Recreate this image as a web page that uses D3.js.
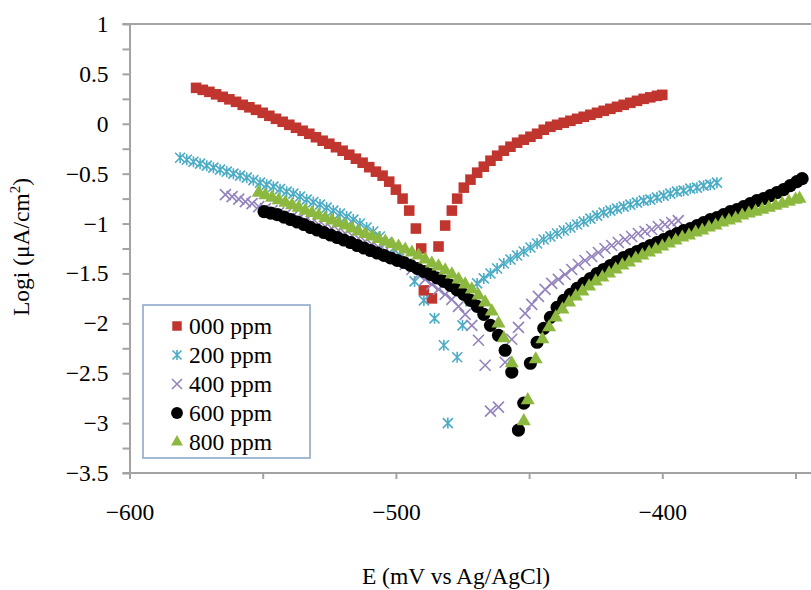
<!DOCTYPE html>
<html><head><meta charset="utf-8">
<script src="https://cdn.jsdelivr.net/npm/d3@7"></script>
<style>
body{margin:0;background:#fff}
svg{display:block}
text{font-family:"Liberation Serif","Times New Roman",serif;fill:#000}
</style>
</head><body>
<svg id="chart" width="811" height="590"></svg>
<script>
// ---- data: [E (mV vs Ag/AgCl), log i (µA/cm²)] ----
const seriesNames = ["000 ppm", "200 ppm", "400 ppm", "600 ppm", "800 ppm"];

const ppm000 = [[-575,0.36],[-572.5,0.34],[-570,0.32],[-567.5,0.295],[-565,0.27],[-562.5,0.245],[-560,0.22],[-557.5,0.19],[-555,0.165],[-552.5,0.14],[-550,0.11],[-547.5,0.08],[-545,0.05],[-542.5,0.02],[-540,-0.01],[-537.5,-0.04],[-535,-0.07],[-532.5,-0.10],[-530,-0.135],[-527.5,-0.17],[-525,-0.20],[-522.5,-0.235],[-520,-0.27],[-517.5,-0.31],[-515,-0.35],[-512.5,-0.39],[-510,-0.435],[-507.5,-0.48],[-505,-0.52],[-502.5,-0.58],[-500,-0.66],[-497.5,-0.75],[-495,-0.87],[-492.5,-1.05],[-490.5,-1.25],[-489.5,-1.67],[-486.5,-1.75],[-484,-1.23],[-481.5,-1.02],[-479,-0.87],[-477,-0.75],[-474.5,-0.64],[-472,-0.56],[-469.5,-0.49],[-467,-0.43],[-464.5,-0.37],[-462,-0.32],[-459.5,-0.27],[-457,-0.23],[-454.5,-0.19],[-452,-0.16],[-449.5,-0.13],[-447,-0.10],[-444.5,-0.06],[-442,-0.03],[-439.5,-0.01],[-437,0.01],[-434.5,0.03],[-432,0.05],[-429.5,0.07],[-427,0.09],[-424.5,0.11],[-422,0.13],[-419.5,0.15],[-417,0.17],[-414.5,0.19],[-412,0.21],[-409.5,0.23],[-407,0.25],[-404.5,0.265],[-402,0.28],[-400,0.29]];

const ppm200 = [[-581,-0.34],[-578.5,-0.36],[-576,-0.38],[-573.5,-0.40],[-571,-0.42],[-568.5,-0.44],[-566,-0.46],[-563.5,-0.48],[-561,-0.50],[-558.5,-0.52],[-556,-0.54],[-553.5,-0.565],[-551,-0.59],[-548.5,-0.61],[-546,-0.63],[-543.5,-0.655],[-541,-0.68],[-538.5,-0.70],[-536,-0.73],[-533.5,-0.76],[-531,-0.785],[-528.5,-0.81],[-526,-0.84],[-523.5,-0.87],[-521,-0.90],[-518.5,-0.93],[-516,-0.96],[-513.5,-1.00],[-511,-1.04],[-508.5,-1.08],[-506,-1.13],[-503.5,-1.19],[-501,-1.25],[-498.5,-1.32],[-496,-1.40],[-493,-1.58],[-489.5,-1.77],[-485.5,-1.95],[-482,-2.22],[-480.5,-3.0],[-477,-2.34],[-475,-2.02],[-472,-1.78],[-469.5,-1.60],[-467,-1.55],[-464.5,-1.50],[-462,-1.45],[-459.5,-1.40],[-457,-1.36],[-454.5,-1.32],[-452,-1.28],[-449.5,-1.24],[-447,-1.20],[-444.5,-1.16],[-442,-1.13],[-439.5,-1.10],[-437,-1.07],[-434.5,-1.04],[-432,-1.01],[-429.5,-0.98],[-427,-0.95],[-424.5,-0.92],[-422,-0.89],[-419.5,-0.87],[-417,-0.85],[-414.5,-0.83],[-412,-0.81],[-409.5,-0.79],[-407,-0.77],[-404.5,-0.76],[-402,-0.74],[-399.5,-0.72],[-397,-0.70],[-394.5,-0.68],[-392,-0.67],[-389.5,-0.65],[-387,-0.64],[-384.5,-0.62],[-382,-0.61],[-379.5,-0.59]];

const ppm400 = [[-564,-0.71],[-561.5,-0.73],[-559,-0.755],[-556.5,-0.78],[-554,-0.80],[-551.5,-0.83],[-549,-0.85],[-546.5,-0.87],[-544,-0.89],[-541.5,-0.91],[-539,-0.93],[-536.5,-0.95],[-534,-0.97],[-531.5,-0.99],[-529,-1.01],[-526.5,-1.03],[-524,-1.05],[-521.5,-1.07],[-519,-1.10],[-516.5,-1.12],[-514,-1.15],[-511.5,-1.18],[-509,-1.21],[-506.5,-1.24],[-504,-1.27],[-501.5,-1.31],[-499,-1.36],[-496.5,-1.41],[-494,-1.46],[-491.5,-1.51],[-489,-1.56],[-486.5,-1.61],[-484,-1.66],[-481.5,-1.71],[-479,-1.76],[-476.5,-1.83],[-474,-1.91],[-471.5,-2.02],[-469,-2.17],[-466.5,-2.42],[-464.5,-2.88],[-461.5,-2.84],[-459,-2.39],[-456.5,-2.16],[-454,-2.04],[-451.5,-1.90],[-449,-1.81],[-446.5,-1.73],[-444,-1.66],[-441.5,-1.60],[-439,-1.56],[-436.5,-1.51],[-434,-1.46],[-431.5,-1.41],[-429,-1.37],[-426.5,-1.33],[-424,-1.29],[-421.5,-1.25],[-419,-1.22],[-416.5,-1.19],[-414,-1.16],[-411.5,-1.13],[-409,-1.10],[-406.5,-1.08],[-404,-1.06],[-401.5,-1.03],[-399,-1.01],[-396.5,-0.99],[-394,-0.97]];

const ppm600 = [[-549.5,-0.88],[-547,-0.895],[-544.5,-0.91],[-542,-0.935],[-539.5,-0.96],[-537,-0.985],[-534.5,-1.01],[-532,-1.04],[-529.5,-1.065],[-527,-1.09],[-524.5,-1.115],[-522,-1.14],[-519.5,-1.165],[-517,-1.19],[-514.5,-1.22],[-512,-1.245],[-509.5,-1.27],[-507,-1.295],[-504.5,-1.32],[-502,-1.345],[-499.5,-1.37],[-497,-1.39],[-494.5,-1.42],[-492,-1.45],[-489.5,-1.48],[-487,-1.51],[-484.5,-1.545],[-482,-1.58],[-479.5,-1.62],[-477,-1.665],[-474.5,-1.71],[-472,-1.77],[-469.5,-1.83],[-467,-1.91],[-464.5,-2.02],[-461.5,-2.12],[-459,-2.27],[-456.5,-2.49],[-454,-3.07],[-452,-2.80],[-449.5,-2.40],[-447,-2.19],[-444.5,-2.05],[-442,-1.94],[-439.5,-1.84],[-437,-1.77],[-434.5,-1.71],[-432,-1.65],[-429.5,-1.60],[-427,-1.55],[-424.5,-1.50],[-422,-1.46],[-419.5,-1.42],[-417,-1.38],[-414.5,-1.34],[-412,-1.31],[-409.5,-1.28],[-407,-1.25],[-404.5,-1.22],[-402,-1.19],[-399.5,-1.16],[-397,-1.13],[-394.5,-1.10],[-392,-1.07],[-389.5,-1.05],[-387,-1.02],[-384.5,-0.99],[-382,-0.96],[-379.5,-0.94],[-377,-0.91],[-374.5,-0.88],[-372,-0.86],[-369.5,-0.83],[-367,-0.80],[-364.5,-0.77],[-362,-0.75],[-359.5,-0.72],[-357,-0.69],[-354.5,-0.66],[-352,-0.62],[-349.5,-0.58],[-347.5,-0.55]];

const ppm800 = [[-551.5,-0.69],[-549,-0.715],[-546.5,-0.74],[-544,-0.765],[-541.5,-0.79],[-539,-0.815],[-536.5,-0.84],[-534,-0.87],[-531.5,-0.895],[-529,-0.92],[-526.5,-0.945],[-524,-0.97],[-521.5,-0.995],[-519,-1.02],[-516.5,-1.05],[-514,-1.08],[-511.5,-1.105],[-509,-1.13],[-506.5,-1.155],[-504,-1.18],[-501.5,-1.205],[-499,-1.23],[-496.5,-1.26],[-494,-1.29],[-491.5,-1.32],[-489,-1.36],[-486.5,-1.40],[-484,-1.43],[-481.5,-1.47],[-479,-1.51],[-476.5,-1.56],[-474,-1.61],[-471.5,-1.66],[-469,-1.72],[-466.5,-1.79],[-464,-1.88],[-461.5,-2.0],[-459.5,-2.15],[-456.5,-2.40],[-452,-2.98],[-450.5,-2.77],[-447.5,-2.36],[-445,-2.16],[-442.5,-2.04],[-440,-1.94],[-437.5,-1.86],[-435,-1.79],[-432.5,-1.73],[-430,-1.68],[-427.5,-1.63],[-425,-1.58],[-422.5,-1.54],[-420,-1.50],[-417.5,-1.46],[-415,-1.42],[-412.5,-1.39],[-410,-1.35],[-407.5,-1.32],[-405,-1.29],[-402.5,-1.26],[-400,-1.23],[-397.5,-1.20],[-395,-1.17],[-392.5,-1.14],[-390,-1.12],[-387.5,-1.09],[-385,-1.07],[-382.5,-1.04],[-380,-1.02],[-377.5,-0.99],[-375,-0.97],[-372.5,-0.95],[-370,-0.92],[-367.5,-0.90],[-365,-0.88],[-362.5,-0.86],[-360,-0.84],[-357.5,-0.82],[-355,-0.80],[-352.5,-0.78],[-350,-0.76],[-348.5,-0.75]];

const xTickValues = [-600, -550, -500, -450, -400, -350];
const xTickLabels = [-600, -500, -400];
const yTickValues = [-3.5,-3.25,-3,-2.75,-2.5,-2.25,-2,-1.75,-1.5,-1.25,-1,-0.75,-0.5,-0.25,0,0.25,0.5,0.75,1];
const yTickLabels = [-3.5,-3,-2.5,-2,-1.5,-1,-0.5,0,0.5,1];

const colors = ["#c0362f", "#4bacc6", "#9483bd", "#000000", "#8db83f"];

// ---- layout ----
const W = 811, H = 590;
const svg = d3.select("#chart");
const x = d3.scaleLinear().domain([-600, -350]).range([129.5, 795.5]);
const y = d3.scaleLinear().domain([-3.5, 1]).range([473, 24]);
const fmt = d3.format("");
const axisColor = "#a3a3a3";

// ---- axes ----
const gy = svg.append("g").attr("transform", `translate(${x(-600)},0)`)
  .call(d3.axisLeft(y).tickValues(yTickValues).tickSize(7).tickSizeOuter(0).tickPadding(14)
    .tickFormat(d => yTickLabels.includes(d) ? fmt(d) : ""));
const gx = svg.append("g").attr("transform", `translate(0,${y(-3.5)})`)
  .call(d3.axisBottom(x).tickValues(xTickValues).tickSize(6).tickSizeOuter(0).tickPadding(24)
    .tickFormat(d => xTickLabels.includes(d) ? fmt(d) : ""));
[gx, gy].forEach(g => {
  g.attr("font-family", null).attr("font-size", null);
  g.select(".domain").attr("stroke", axisColor).attr("stroke-width", 2);
  g.selectAll(".tick line").attr("stroke", axisColor).attr("stroke-width", 2);
  g.selectAll(".tick text").attr("font-size", 23.5).attr("fill", "#000")
    .attr("font-family", '"Liberation Serif","Times New Roman",serif');
});
gx.select(".domain").remove();
svg.append("line").attr("x1", x(-600) - 7).attr("x2", W)
  .attr("y1", y(-3.5)).attr("y2", y(-3.5)).attr("stroke", axisColor).attr("stroke-width", 2);
svg.append("line").attr("x1", x(-600) - 7).attr("x2", W)
  .attr("y1", y(1)).attr("y2", y(1)).attr("stroke", axisColor).attr("stroke-width", 2);

// ---- markers ----
const dataMarker = [
  () => d3.symbol(d3.symbolSquare, 112)(),
  () => `M-5,-5L5,5M-5,5L5,-5M0,-5.5L0,5.5`,
  () => `M-5.5,-5.5L5.5,5.5M-5.5,5.5L5.5,-5.5`,
  () => d3.symbol(d3.symbolCircle, 135)(),
  () => d3.symbol(d3.symbolTriangle, 85)()
];
const legendMarker = [
  () => d3.symbol(d3.symbolSquare, 90)(),
  () => `M-4.5,-4.5L4.5,4.5M-4.5,4.5L4.5,-4.5M0,-5L0,5`,
  () => `M-5,-5L5,5M-5,5L5,-5`,
  () => d3.symbol(d3.symbolCircle, 110)(),
  () => d3.symbol(d3.symbolTriangle, 62)()
];
function styleMarker(sel, i) {
  if (i === 1 || i === 2) {
    sel.attr("fill", "none").attr("stroke", colors[i]).attr("stroke-width", 1.6);
  } else {
    sel.attr("fill", colors[i]).attr("stroke", "none");
  }
}
const allSeries = [ppm000, ppm200, ppm400, ppm600, ppm800];
allSeries.forEach((data, i) => {
  const g = svg.append("g");
  g.selectAll("path").data(data).join("path")
    .attr("d", dataMarker[i]())
    .attr("transform", d => `translate(${x(d[0])},${y(d[1])})`)
    .call(styleMarker, i);
});

// ---- legend ----
const lg = svg.append("g");
lg.append("rect").attr("x", 143).attr("y", 305).attr("width", 167).attr("height", 153)
  .attr("fill", "#fff").attr("stroke", "#86a3c6").attr("stroke-width", 1.5);
seriesNames.forEach((name, i) => {
  const cy = 326 + i * 29;
  lg.append("path").attr("d", legendMarker[i]())
    .attr("transform", `translate(177,${cy})`).call(styleMarker, i);
  lg.append("text").attr("x", 189).attr("y", cy + 8).attr("font-size", 23.5).text(name);
});

// ---- titles ----
svg.append("text").attr("x", 456).attr("y", 584).attr("text-anchor", "middle")
  .attr("font-size", 23.5).text("E (mV vs Ag/AgCl)");
const yt = svg.append("text").attr("transform", "translate(29,247) rotate(-90)")
  .attr("text-anchor", "middle").attr("font-size", 23.5);
yt.append("tspan").text("Logi (μA/cm");
yt.append("tspan").attr("font-size", 15).attr("dy", -9).text("2");
yt.append("tspan").attr("dy", 9).text(")");
</script>
</body></html>
